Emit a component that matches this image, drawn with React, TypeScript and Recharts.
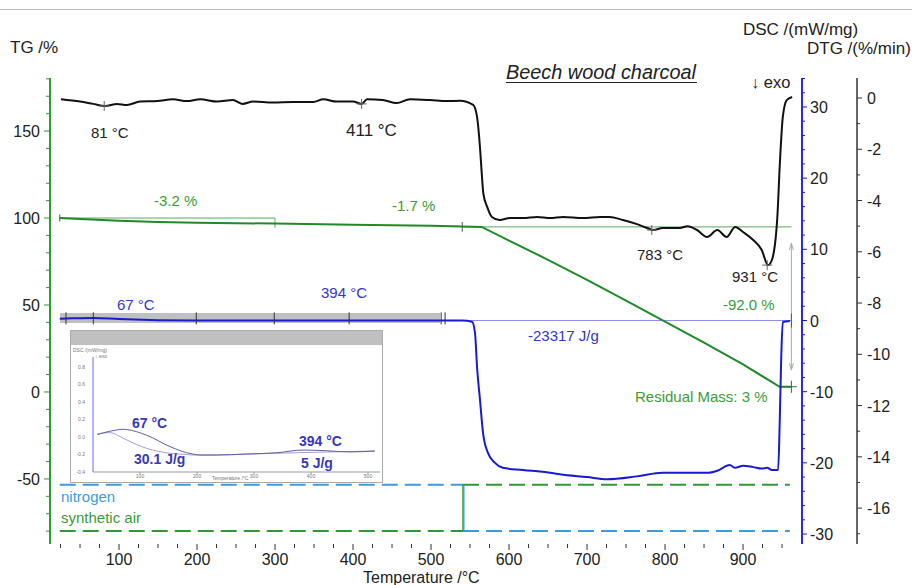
import {
  LineChart,
  Line,
  XAxis,
  YAxis,
  ReferenceLine,
  ReferenceArea,
  ReferenceDot,
} from "recharts";

const FONT = "Arial, 'Liberation Sans', Helvetica, sans-serif";

// TG (mass, %) vs temperature
const tgTemps = [24, 50, 100, 150, 200, 300, 400, 500, 540, 565, 600, 650, 700, 750, 800, 850, 900, 947, 962];
const tgValues = [100, 99.4, 98.4, 97.7, 97.3, 96.8, 96.1, 95.5, 95.1, 94.9, 87.0, 76.0, 64.5, 52.5, 40.5, 28.3, 15.8, 3.0, 3.0];

// DSC (mW/mg)
const dscTemps = [24, 40, 67, 100, 150, 200, 300, 400, 500, 540, 552.6, 556.4, 559, 562.8, 566.7, 573, 582, 592, 618, 652.6, 665, 700, 725.6, 764, 797, 854, 867, 883, 890, 900, 913, 924, 931, 937, 945, 947, 949, 951, 960];
const dscValues = [0.25, 0.3, 0.35, 0.2, 0.05, 0, 0, 0, 0, 0, -0.17, -1.76, -6.53, -11.17, -15.81, -18.6, -20.0, -20.7, -21.0, -21.4, -21.6, -22.0, -22.3, -21.9, -21.4, -21.4, -21.1, -20.3, -20.7, -20.4, -20.6, -20.8, -20.7, -21.0, -21.0, -14.4, -5.1, -0.2, -0.07];

// DTG (%/min)
const dtgTemps = [25.6, 50, 66.7, 82, 97.4, 110, 127, 149, 169, 187, 204, 226, 246, 258, 272, 297, 323, 349, 362, 379, 400, 411, 418, 438, 456, 473, 499, 520, 537, 554, 559, 563, 565, 567, 572, 578, 588, 601, 618, 636, 653, 669, 695, 717, 729, 746, 764, 777, 785, 797, 819, 829, 841, 854, 867, 879, 890, 900, 913, 924, 932, 937, 944, 947, 951, 956, 963];
const dtgValues = [-0.05, -0.14, -0.23, -0.31, -0.23, -0.27, -0.14, -0.12, -0.05, -0.12, -0.05, -0.14, -0.08, -0.23, -0.14, -0.18, -0.16, -0.16, -0.05, -0.14, -0.14, -0.23, -0.05, -0.08, -0.2, -0.05, -0.08, -0.12, -0.11, -0.27, -0.74, -2.03, -2.93, -3.71, -4.25, -4.64, -4.76, -4.68, -4.68, -4.64, -4.68, -4.64, -4.68, -4.64, -4.64, -4.76, -4.92, -5.07, -5.15, -5.07, -5.07, -5.0, -5.15, -5.42, -5.15, -5.42, -5.03, -5.23, -5.54, -5.93, -6.52, -6.32, -4.64, -2.69, -0.74, -0.08, 0.04];

// gas atmosphere (drawn on TG scale)
const gasStart = 24;
const gasSwitch = 541;
const gasEnd = 960;
const upperGasLevel = -53.4;
const lowerGasLevel = -79.9;

// evaluation marks
const dtgPeaks = [
  { t: 81, v: -0.31 },
  { t: 411, v: -0.23 },
  { t: 783, v: -5.15 },
  { t: 931, v: -6.52 },
];
const dscMarkTemps = [32, 67, 199, 299, 395, 513, 518];
const tgStep1 = { from: 24, to: 300, start: 100, end: 96.8 };
const tgStep2 = { from: 540, to: 962, level: 94.9, end: 3.0 };

// inset (low temperature DSC zoom)
const insetTemps = [25, 47, 70.7, 76.7, 111.7, 152.6, 182, 193.5, 205, 234.5, 287, 340, 386, 427.5, 468, 512];
const insetUpper = [0.03, 0.065, 0.088, 0.085, 0.02, -0.11, -0.18, -0.196, -0.206, -0.206, -0.194, -0.18, -0.149, -0.157, -0.171, -0.16];
const insetLower = [0.03, 0.05, -0.015, -0.034, -0.13, -0.186, -0.2, -0.206, -0.206, -0.206, -0.196, -0.186, -0.178, -0.172, -0.166, -0.16];

const xMajor = [100, 200, 300, 400, 500, 600, 700, 800, 900];
const xTicks = Array.from({ length: 38 }, (_, i) => 25 + i * 25);
const tgMajor = [-50, 0, 50, 100, 150];
const tgTicks = Array.from({ length: 27 }, (_, i) => -80 + i * 10);
const dscMajor = [-30, -20, -10, 0, 10, 20, 30];
const dscTicks = Array.from({ length: 33 }, (_, i) => -30 + i * 2);
const dtgMajor = [0, -2, -4, -6, -8, -10, -12, -14, -16];
const dtgTicks = Array.from({ length: 18 }, (_, i) => -17 + i);

const zip = (ts: number[], vs: number[]) => ts.map((t, i) => ({ t, v: vs[i] }));
const tgData = zip(tgTemps, tgValues);
const dscData = zip(dscTemps, dscValues);
const dtgData = zip(dtgTemps, dtgValues);
const insetUpperData = zip(insetTemps, insetUpper);
const insetLowerData = zip(insetTemps, insetLower);

const GREEN = "#2f9a35";
const GREEN_TXT = "#3b9b3b";
const BLUE = "#1a1ad0";
const BLUE_TXT = "#3535cc";
const N2 = "#3d9be0";

const XTick = (p: any) => {
  const v = p.payload.value;
  const major = xMajor.includes(v);
  return (
    <g>
      <line x1={p.x} x2={p.x} y1={p.y} y2={p.y + (major ? 6 : 4)} stroke="#333" />
      {major && (
        <text x={p.x} y={p.y + 21} textAnchor="middle" fontSize={16} fill="#222" fontFamily={FONT}>
          {v}
        </text>
      )}
    </g>
  );
};

const LeftTick = (p: any) => {
  const v = p.payload.value;
  const major = tgMajor.includes(v);
  return (
    <g>
      <line x1={p.x - (major ? 6 : 4)} x2={p.x} y1={p.y} y2={p.y} stroke={GREEN} />
      {major && (
        <text x={p.x - 10} y={p.y + 6} textAnchor="end" fontSize={16} fill="#222" fontFamily={FONT}>
          {v}
        </text>
      )}
    </g>
  );
};

const makeRightTick = (majors: number[], color: string, gap: number) => (p: any) => {
  const v = p.payload.value;
  const major = majors.includes(v);
  return (
    <g>
      <line x1={p.x} x2={p.x + (major ? 5 : 3)} y1={p.y} y2={p.y} stroke={color} />
      {major && (
        <text x={p.x + gap} y={p.y + 6} textAnchor="start" fontSize={16} fill="#222" fontFamily={FONT}>
          {v}
        </text>
      )}
    </g>
  );
};
const DscTick = makeRightTick(dscMajor, BLUE, 8);
const DtgTick = makeRightTick(dtgMajor, "#333", 10);

const cross = (p: any) => (
  <path d={`M${p.cx - 5},${p.cy}h10M${p.cx},${p.cy - 5}v10`} stroke="#666" strokeWidth={1} fill="none" />
);
const vtick = (p: any) => (
  <path d={`M${p.cx},${p.cy - 6}v12`} stroke="#333" strokeWidth={1} fill="none" />
);

const labels = [
  { x: 10, y: 53, s: "TG /%", c: "#222", f: 17 },
  { x: 743, y: 35, s: "DSC /(mW/mg)", c: "#222", f: 17 },
  { x: 807, y: 54, s: "DTG /(%/min)", c: "#222", f: 17 },
  { x: 751, y: 88, s: "\u2193 exo", c: "#222", f: 16.5 },
  { x: 363, y: 582.5, s: "Temperature /\u00b0C", c: "#222", f: 16 },
  { x: 91, y: 138, s: "81 \u00b0C", c: "#222", f: 15 },
  { x: 346, y: 136, s: "411 \u00b0C", c: "#222", f: 17 },
  { x: 637, y: 260, s: "783 \u00b0C", c: "#222", f: 15 },
  { x: 732, y: 282, s: "931 \u00b0C", c: "#222", f: 15 },
  { x: 154, y: 206, s: "-3.2 %", c: GREEN_TXT, f: 15 },
  { x: 392, y: 211, s: "-1.7 %", c: GREEN_TXT, f: 15 },
  { x: 723, y: 310, s: "-92.0 %", c: GREEN_TXT, f: 15 },
  { x: 635, y: 402, s: "Residual Mass: 3 %", c: GREEN_TXT, f: 15 },
  { x: 528, y: 341, s: "-23317 J/g", c: BLUE_TXT, f: 15 },
  { x: 117, y: 310, s: "67 \u00b0C", c: BLUE_TXT, f: 15 },
  { x: 321, y: 298, s: "394 \u00b0C", c: BLUE_TXT, f: 15 },
  { x: 61, y: 502, s: "nitrogen", c: N2, f: 15 },
  { x: 61, y: 523, s: "synthetic air", c: GREEN_TXT, f: 15 },
];

const insetLabels = [
  { x: 131, y: 427, s: "67 \u00b0C" },
  { x: 133, y: 463, s: "30.1 J/g" },
  { x: 298, y: 445, s: "394 \u00b0C" },
  { x: 300, y: 467, s: "5 J/g" },
];

function Inset() {
  const tiny = { fontSize: 5, fill: "#777", fontFamily: FONT };
  return (
    <div
      style={{
        position: "absolute",
        left: 70,
        top: 330,
        width: 313,
        height: 153,
        border: "1px solid #aaa",
        boxSizing: "border-box",
        background: "#fff",
      }}
    >
      <div style={{ height: 14, background: "#c0c0c0" }} />
      <LineChart width={311} height={137} margin={{ top: 12, right: 2, bottom: 0, left: 0 }}>
        <XAxis
          type="number"
          dataKey="t"
          domain={[17.5, 521]}
          ticks={[100, 200, 300, 400, 500]}
          height={10}
          tick={tiny}
          tickSize={2}
          tickMargin={0}
          axisLine={{ stroke: "#999" }}
          tickLine={{ stroke: "#999" }}
          allowDataOverflow
        />
        <YAxis
          type="number"
          domain={[-0.4, 0.914]}
          ticks={[-0.4, -0.2, 0, 0.2, 0.4, 0.6, 0.8]}
          tickFormatter={(v: number) => v.toFixed(1)}
          width={22}
          tick={tiny}
          tickSize={0}
          tickMargin={8}
          axisLine={{ stroke: "#6a6aff" }}
          allowDataOverflow
        />
        <Line data={insetLowerData} dataKey="v" type="monotone" stroke="#a0a0cc" strokeWidth={1} dot={false} isAnimationActive={false} />
        <Line data={insetUpperData} dataKey="v" type="monotone" stroke="#5e5ea6" strokeWidth={1} dot={false} isAnimationActive={false} />
      </LineChart>
      <svg width={313} height={153} style={{ position: "absolute", left: -1, top: -1, pointerEvents: "none" }}>
        <text x={3} y={22} {...tiny}>DSC /(mW/mg)</text>
        <text x={25} y={28} {...tiny}>{"\u2193 exo"}</text>
        <text x={142} y={150} {...tiny}>{"Temperature /\u00b0C"}</text>
        {insetLabels.map((l) => (
          <text key={l.s} x={l.x - 69} y={l.y - 329} fontSize={14} fontWeight="bold" fill="#3838b8" fontFamily={FONT}>
            {l.s}
          </text>
        ))}
      </svg>
    </div>
  );
}

export default function App() {
  return (
    <div style={{ position: "absolute", left: 0, top: 0, width: 912, height: 585, background: "#fff", overflow: "hidden" }}>
      <div style={{ position: "absolute", left: 0, top: 9, width: 912, height: 1, background: "#bbb" }} />
      <div style={{ position: "absolute", left: 0, top: 0 }}>
        <LineChart width={912} height={585} margin={{ top: 78, right: 0, bottom: 0, left: 0 }}>
          <XAxis
            type="number"
            dataKey="t"
            domain={[11.5, 975.6]}
            ticks={xTicks}
            interval={0}
            height={41}
            axisLine={false}
            tickLine={false}
            tickSize={0}
            tickMargin={0}
            tick={XTick}
            allowDataOverflow
          />
          <YAxis
            yAxisId="tg"
            orientation="left"
            type="number"
            domain={[-87.4, 180.5]}
            ticks={tgTicks}
            interval={0}
            width={50}
            axisLine={{ stroke: GREEN, strokeWidth: 2 }}
            tickLine={false}
            tickSize={0}
            tickMargin={0}
            tick={LeftTick}
            allowDataOverflow
          />
          <YAxis
            yAxisId="dsc"
            orientation="right"
            type="number"
            domain={[-31.4, 34.07]}
            ticks={dscTicks}
            interval={0}
            width={55}
            axisLine={{ stroke: "#2a2af0", strokeWidth: 2 }}
            tickLine={false}
            tickSize={0}
            tickMargin={0}
            tick={DscTick}
            allowDataOverflow
          />
          <YAxis
            yAxisId="dtg"
            orientation="right"
            type="number"
            domain={[-17.4, 0.78]}
            ticks={dtgTicks}
            interval={0}
            width={55}
            axisLine={{ stroke: "#333", strokeWidth: 1.5 }}
            tickLine={false}
            tickSize={0}
            tickMargin={0}
            tick={DtgTick}
            allowDataOverflow
          />

          <ReferenceArea yAxisId="dsc" x1={24.4} x2={511.5} y1={-0.35} y2={1.05} fill="#c0c0c0" fillOpacity={1} stroke="none" />

          {/* TG evaluation brackets */}
          <ReferenceLine yAxisId="tg" segment={[{ x: tgStep1.from, y: tgStep1.start }, { x: tgStep1.to, y: tgStep1.start }]} stroke="#5aaa5a" strokeWidth={1} />
          <ReferenceLine yAxisId="tg" segment={[{ x: tgStep1.to, y: tgStep1.start }, { x: tgStep1.to, y: tgStep1.end - 2.4 }]} stroke="#5aaa5a" strokeWidth={1} />
          <ReferenceLine yAxisId="tg" segment={[{ x: tgStep1.from, y: tgStep1.start + 2 }, { x: tgStep1.from, y: tgStep1.start - 2 }]} stroke="#555" strokeWidth={1} />
          <ReferenceLine yAxisId="tg" segment={[{ x: tgStep2.from, y: tgStep2.level + 2.8 }, { x: tgStep2.from, y: tgStep2.level - 2.8 }]} stroke="#555" strokeWidth={1} />
          <ReferenceLine yAxisId="tg" segment={[{ x: tgStep2.from, y: tgStep2.level }, { x: tgStep2.to, y: tgStep2.level }]} stroke="#5aaa5a" strokeWidth={1} />
          <ReferenceLine yAxisId="tg" segment={[{ x: tgStep2.to, y: 85.6 }, { x: tgStep2.to, y: 12.6 }]} stroke="#9ab89a" strokeWidth={1} />
          <ReferenceLine yAxisId="tg" segment={[{ x: tgStep2.to, y: 85.6 }, { x: tgStep2.to - 2.6, y: 81.6 }]} stroke="#9ab89a" strokeWidth={1} />
          <ReferenceLine yAxisId="tg" segment={[{ x: tgStep2.to, y: 85.6 }, { x: tgStep2.to + 2.6, y: 81.6 }]} stroke="#9ab89a" strokeWidth={1} />
          <ReferenceLine yAxisId="tg" segment={[{ x: tgStep2.to, y: 12.6 }, { x: tgStep2.to - 2.6, y: 16.6 }]} stroke="#9ab89a" strokeWidth={1} />
          <ReferenceLine yAxisId="tg" segment={[{ x: tgStep2.to, y: 12.6 }, { x: tgStep2.to + 2.6, y: 16.6 }]} stroke="#9ab89a" strokeWidth={1} />
          <ReferenceLine yAxisId="tg" segment={[{ x: 947, y: tgStep2.end }, { x: 969, y: tgStep2.end }]} stroke="#555" strokeWidth={1} />
          <ReferenceLine yAxisId="tg" segment={[{ x: tgStep2.to, y: tgStep2.end + 3.5 }, { x: tgStep2.to, y: tgStep2.end - 3.5 }]} stroke="#555" strokeWidth={1} />

          {/* DSC baseline */}
          <ReferenceLine yAxisId="dsc" segment={[{ x: 540, y: 0 }, { x: 962, y: 0 }]} stroke="#8f8fe6" strokeWidth={1} />
          <ReferenceLine yAxisId="dsc" segment={[{ x: 962, y: 1 }, { x: 962, y: -1 }]} stroke="#555" strokeWidth={1} />

          {/* gas atmosphere */}
          <Line yAxisId="tg" data={zip([gasStart, gasSwitch], [upperGasLevel, upperGasLevel])} dataKey="v" type="linear" stroke={N2} strokeWidth={2} strokeDasharray="16 7" dot={false} isAnimationActive={false} />
          <Line yAxisId="tg" data={zip([gasSwitch, gasEnd], [lowerGasLevel, lowerGasLevel])} dataKey="v" type="linear" stroke={N2} strokeWidth={2} strokeDasharray="16 7" dot={false} isAnimationActive={false} />
          <Line yAxisId="tg" data={zip([gasStart, gasSwitch], [lowerGasLevel, lowerGasLevel])} dataKey="v" type="linear" stroke={GREEN} strokeWidth={2} strokeDasharray="16 7" dot={false} isAnimationActive={false} />
          <Line yAxisId="tg" data={zip([gasSwitch, gasEnd], [upperGasLevel, upperGasLevel])} dataKey="v" type="linear" stroke={GREEN} strokeWidth={2} strokeDasharray="16 7" dot={false} isAnimationActive={false} />
          <ReferenceLine yAxisId="tg" segment={[{ x: gasSwitch, y: upperGasLevel }, { x: gasSwitch, y: lowerGasLevel }]} stroke={GREEN} strokeWidth={1.5} />
          <ReferenceLine yAxisId="tg" segment={[{ x: gasSwitch + 1.3, y: upperGasLevel }, { x: gasSwitch + 1.3, y: lowerGasLevel }]} stroke={N2} strokeWidth={1} />

          <Line yAxisId="tg" data={tgData} dataKey="v" type="linear" stroke="#1f8a28" strokeWidth={2} dot={false} isAnimationActive={false} />
          <Line yAxisId="dsc" data={dscData} dataKey="v" type="monotone" stroke={BLUE} strokeWidth={2} dot={false} isAnimationActive={false} />
          <Line yAxisId="dtg" data={dtgData} dataKey="v" type="monotone" stroke="#111" strokeWidth={2} dot={false} isAnimationActive={false} />

          {dtgPeaks.map((p) => (
            <ReferenceDot key={`pk-${p.t}`} yAxisId="dtg" x={p.t} y={p.v} r={0} shape={cross} />
          ))}
          {dscMarkTemps.map((t) => (
            <ReferenceDot key={`dm-${t}`} yAxisId="dsc" x={t} y={0.3} r={0} shape={vtick} />
          ))}
        </LineChart>
      </div>

      <svg width={912} height={585} style={{ position: "absolute", left: 0, top: 0, pointerEvents: "none" }}>
        <text x={506} y={79} fontSize={20} fontStyle="italic" fill="#222" fontFamily={FONT} textLength={190} lengthAdjust="spacingAndGlyphs">
          Beech wood charcoal
        </text>
        <line x1={506} x2={697} y1={82.5} y2={82.5} stroke="#222" strokeWidth={1} />
        {labels.map((l) => (
          <text key={l.s} x={l.x} y={l.y} fontSize={l.f} fill={l.c} fontFamily={FONT}>
            {l.s}
          </text>
        ))}
      </svg>

      <Inset />
    </div>
  );
}
